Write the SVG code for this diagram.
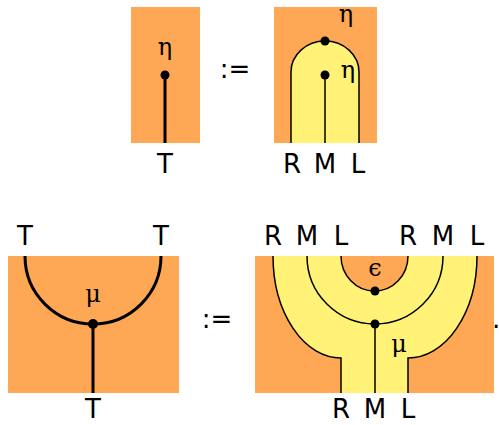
<svg xmlns="http://www.w3.org/2000/svg" width="499" height="425" viewBox="0 0 499 425">
<style>
.o{fill:#fea856}
.y{fill:#fff277}
.ys{fill:#fff277;stroke:#000;stroke-width:1.5}
.th{stroke:#000;stroke-width:3;fill:none}
.tn{stroke:#000;stroke-width:1.5;fill:none}
.lb{font-family:"DejaVu Sans",sans-serif;font-size:26px;text-anchor:middle;fill:#000}
.gk{font-family:"DejaVu Serif","Liberation Serif",serif;font-size:24px;text-anchor:middle;fill:#000}
.op{font-family:"DejaVu Sans",sans-serif;font-size:26px;text-anchor:middle;fill:#000}
</style>
<rect width="499" height="425" fill="#fff"/>
<g id="eta-left">
<rect class="o" x="131" y="7" width="69" height="136"/>
<line class="th" x1="165" y1="75" x2="165" y2="143"/>
<circle cx="165" cy="75" r="4.5"/>
<text class="gk" x="165" y="55">η</text>
<text class="lb" x="165" y="173">T</text>
</g>
<text class="op" x="235" y="78">:=</text>
<g id="eta-right">
<rect class="o" x="274" y="7" width="103" height="136"/>
<path class="ys" d="M291,143 L291,72 A34,31 0 0 1 359,72 L359,143"/>
<line class="tn" x1="325" y1="75" x2="325" y2="143"/>
<circle cx="325" cy="41" r="4.5"/>
<circle cx="325" cy="75" r="4.5"/>
<text class="gk" x="346" y="22">η</text>
<text class="gk" x="348" y="78">η</text>
<text class="lb" x="292" y="173">R</text>
<text class="lb" x="325" y="173">M</text>
<text class="lb" x="358" y="173">L</text>
</g>
<g id="mu-left">
<rect class="o" x="8" y="256" width="171" height="137"/>
<path class="th" d="M25,256 A68,68 0 0 0 161,256"/>
<line class="th" x1="93" y1="324" x2="93" y2="393"/>
<circle cx="93" cy="324" r="5"/>
<text class="gk" x="93" y="302">μ</text>
<text class="lb" x="25" y="245">T</text>
<text class="lb" x="161" y="245">T</text>
<text class="lb" x="93" y="418">T</text>
</g>
<text class="op" x="217" y="328">:=</text>
<g id="mu-right">
<rect class="o" x="255" y="256" width="239" height="137"/>
<path class="y" d="M273,256 A68,102 0 0 0 341,358 L341,393 L408,393 L408,358 A69,102 0 0 0 477,256 Z"/>
<path class="tn" d="M273,256 A68,102 0 0 0 341,358 L341,393 M408,393 L408,358 A69,102 0 0 0 477,256"/>
<path class="tn" d="M307,256 A68,68 0 0 0 443,256"/>
<path class="o" d="M341,256 A33.5,35 0 0 0 408,256 Z"/>
<path class="tn" d="M341,256 A33.5,35 0 0 0 408,256"/>
<line class="tn" x1="375" y1="324" x2="375" y2="393"/>
<circle cx="375" cy="291" r="4.5"/>
<circle cx="375" cy="324" r="4.5"/>
<text class="gk" x="375" y="276">ϵ</text>
<text class="gk" x="399" y="352">μ</text>
<text class="lb" x="273" y="245">R</text>
<text class="lb" x="307" y="245">M</text>
<text class="lb" x="341" y="245">L</text>
<text class="lb" x="408" y="245">R</text>
<text class="lb" x="443" y="245">M</text>
<text class="lb" x="477" y="245">L</text>
<text class="lb" x="341" y="418">R</text>
<text class="lb" x="375" y="418">M</text>
<text class="lb" x="408" y="418">L</text>
</g>
<text class="op" x="492" y="328" style="text-anchor:start">.</text>
</svg>
